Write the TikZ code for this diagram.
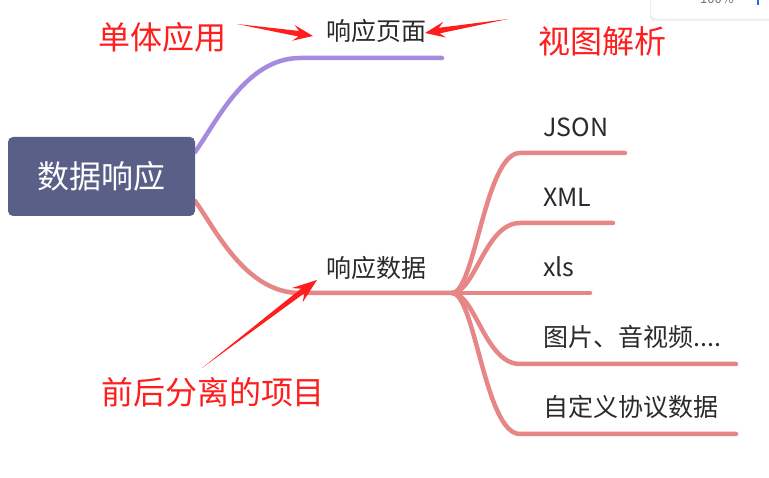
\documentclass[tikz,border=0pt]{standalone}
\usepackage{fontspec}
\setmainfont{Noto Sans CJK SC}
\usetikzlibrary{calc}
\definecolor{rootc}{HTML}{5A5F87}
\definecolor{purp}{HTML}{A68AE0}
\definecolor{pinkc}{HTML}{E68686}
\definecolor{anno}{HTML}{FF1E1E}
\definecolor{txt}{HTML}{2A2A2A}
\newcommand\tarrow[4]{% tail, tip, head length, head half width
  \fill[anno] (#1) -- ($(#2)!{0.72*#3}!(#1)!2.8pt!90:(#1)$) -- ($(#2)!#3!(#1)!#4!90:(#1)$) -- (#2)
    -- ($(#2)!#3!(#1)!#4!-90:(#1)$) -- ($(#2)!{0.72*#3}!(#1)!2.8pt!-90:(#1)$) -- cycle;}
\begin{document}
\begin{tikzpicture}[x=1pt,y=-1pt,
  branch/.style={line width=4.5pt,line cap=round},
  lbl/.style={font=\fontsize{25}{25}\selectfont, text=txt, inner sep=0pt, anchor=base west},
  annot/.style={font=\fontsize{32}{32}\selectfont, text=anno, inner sep=0pt},
  rootbox/.style={rectangle, rounded corners=5pt, fill=rootc, text=white,
    minimum width=187pt, minimum height=79pt, font=\fontsize{32}{32}\selectfont},
]
\useasboundingbox (0,0) rectangle (769,478);
\clip (0,0) rectangle (769,478);
\fill[white] (0,0) rectangle (769,478);

% top-right toolbar fragment
\fill[black!6, rounded corners=4pt] (650,-10) rectangle (792,21);
\filldraw[fill=white, draw=black!12, rounded corners=4pt] (651,-10) rectangle (792,19);
\node[font=\fontsize{13}{13}\selectfont, text=black!55, inner sep=0pt, anchor=base] (zoomtxt) at (717,4) {100\%};
\draw[line width=1.5pt, draw={rgb,255:red,30;green,110;blue,230}] (758,-2) -- (758,5);

% coordinates
\coordinate (ps) at (195,152);
\coordinate (pg) at (300,58);
\coordinate (pge) at (442,58);
\coordinate (ks) at (195,201);
\coordinate (kd) at (300,293);
\coordinate (kj) at (452,293);
\coordinate (j1) at (520,153); \coordinate (j1e) at (625,153);
\coordinate (j2) at (520,223); \coordinate (j2e) at (613,223);
\coordinate (j3e) at (590,293);
\coordinate (j4) at (520,364); \coordinate (j4e) at (736,364);
\coordinate (j5) at (520,434); \coordinate (j5e) at (736,434);

% branches
\draw[branch, purp] (ps) .. controls (215,125) and (245,58) .. (pg) -- (pge);
\draw[branch, pinkc] (ks) .. controls (215,228) and (245,293) .. (kd) -- (kj);
\draw[branch, pinkc] (kj) .. controls (475,293) and (485,153) .. (j1) -- (j1e);
\draw[branch, pinkc] (kj) .. controls (475,293) and (485,223) .. (j2) -- (j2e);
\draw[branch, pinkc] (kj) -- (j3e);
\draw[branch, pinkc] (kj) .. controls (475,293) and (485,364) .. (j4) -- (j4e);
\draw[branch, pinkc] (kj) .. controls (475,293) and (485,434) .. (j5) -- (j5e);

% root
\node[rootbox] (root) at (101.5,176.5) {数据响应};

% labels
\node[lbl] (page) at (326,41) {响应页面};
\node[lbl] (data) at (326,278) {响应数据};
\node[lbl] (json) at (543,137) {JSON};
\node[lbl] (xml) at (543,207) {XML};
\node[lbl] (xls) at (543,277) {xls};
\node[lbl] (media) at (543,347) {图片、音视频....};
\node[lbl] (custom) at (543,417) {自定义协议数据};

% annotations
\node[annot] (mono) at (162,37) {单体应用};
\node[annot] (view) at (602,41) {视图解析};
\node[annot] (sep) at (213,392) {前后分离的项目};

\coordinate (a1t) at (237,24); \coordinate (a1h) at (313,36);
\coordinate (a2t) at (508,19); \coordinate (a2h) at (425,33);
\coordinate (a3t) at (202,368); \coordinate (a3h) at (317,280);
\tarrow{a1t}{a1h}{20pt}{8pt}
\tarrow{a2t}{a2h}{20pt}{8pt}
\tarrow{a3t}{a3h}{25pt}{9pt}
\end{tikzpicture}
\end{document}
